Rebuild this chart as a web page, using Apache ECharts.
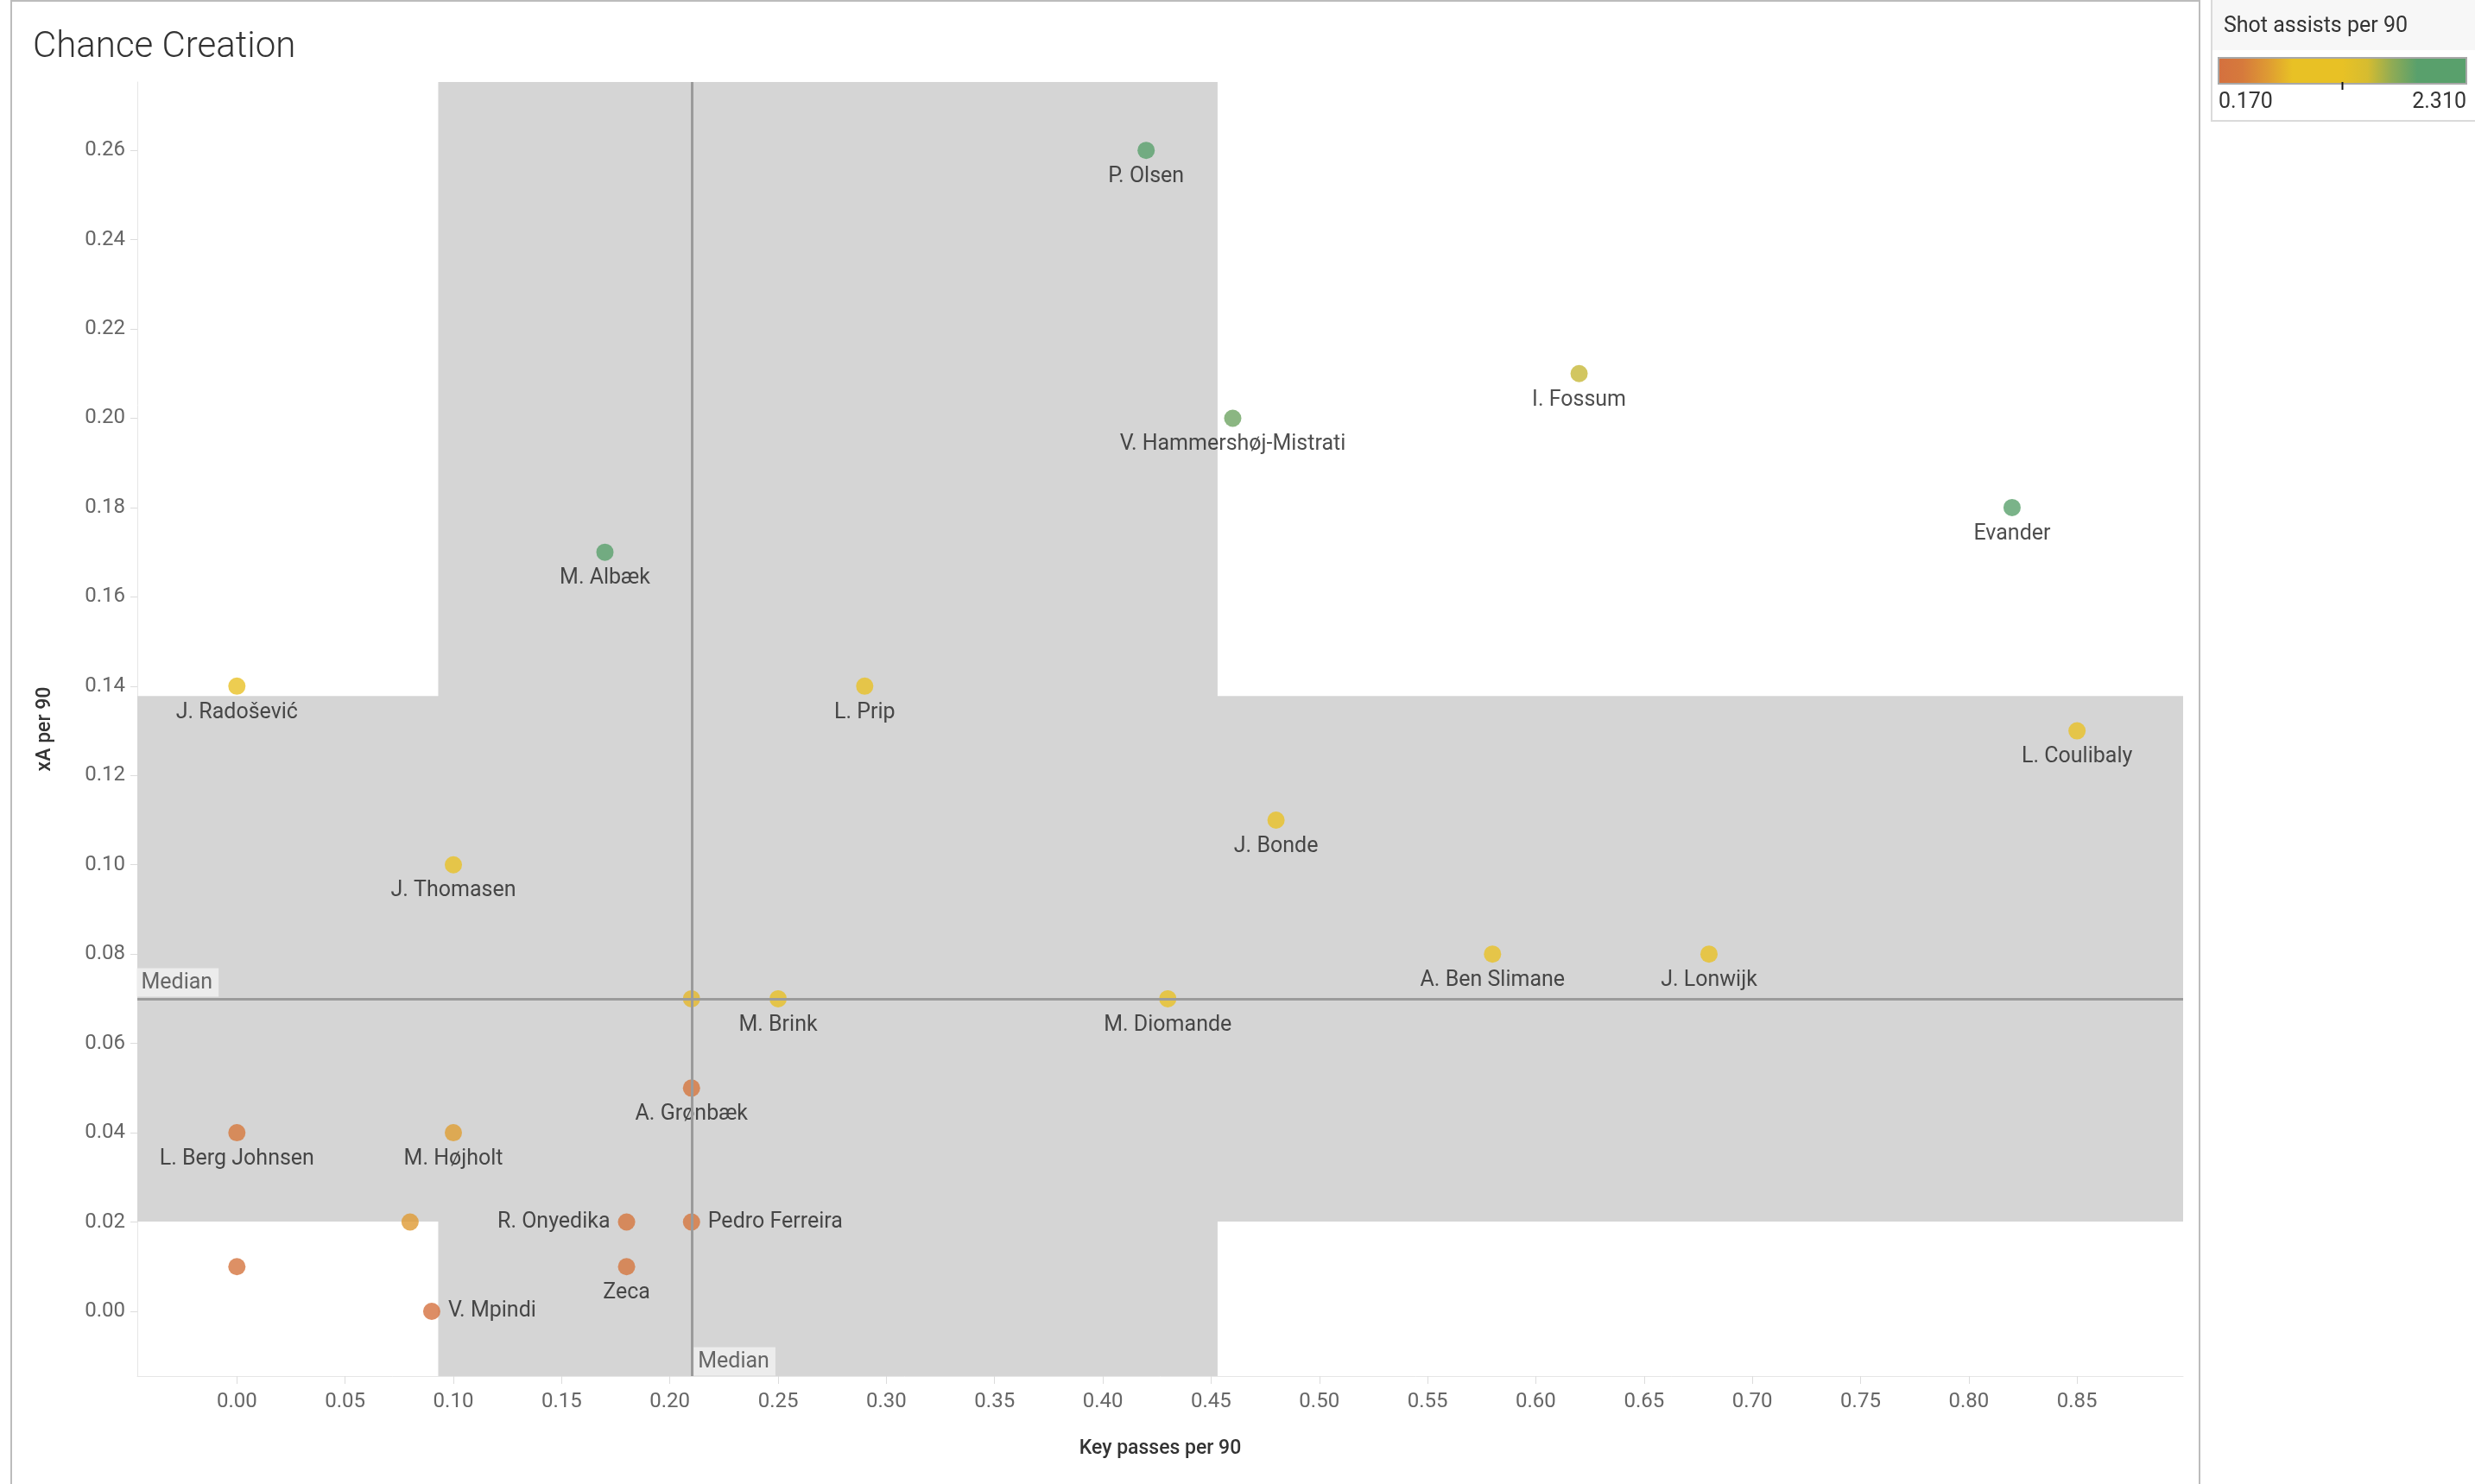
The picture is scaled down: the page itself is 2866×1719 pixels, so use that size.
<!DOCTYPE html>
<html>
<head>
<meta charset="utf-8">
<title>Chance Creation</title>
<script src="https://cdn.jsdelivr.net/npm/echarts@6.0.0/dist/echarts.min.js"></script>
<style>
  html, body { margin: 0; padding: 0; background: #fff; }
  #chart { width: 2866px; height: 1719px; }
</style>
</head>
<body>
<div id="chart"></div>
<script>
// values ('' = point without a label)
const players = [
  'P. Olsen', 'I. Fossum', 'V. Hammershøj-Mistrati', 'Evander', 'M. Albæk',
  'J. Radošević', 'L. Prip', 'L. Coulibaly', 'J. Bonde', 'J. Thomasen',
  'A. Ben Slimane', 'J. Lonwijk', '', 'M. Brink', 'M. Diomande',
  'A. Grønbæk', 'L. Berg Johnsen', 'M. Højholt', '', 'R. Onyedika',
  'Pedro Ferreira', '', 'Zeca', 'V. Mpindi'
];
const keyPasses = [0.42, 0.62, 0.46, 0.82, 0.17, 0.00, 0.29, 0.85, 0.48, 0.10, 0.58, 0.68,
  0.21, 0.25, 0.43, 0.21, 0.00, 0.10, 0.08, 0.18, 0.21, 0.00, 0.18, 0.09];
const xAPer90 = [0.26, 0.21, 0.20, 0.18, 0.17, 0.14, 0.14, 0.13, 0.11, 0.10, 0.08, 0.08,
  0.07, 0.07, 0.07, 0.05, 0.04, 0.04, 0.02, 0.02, 0.02, 0.01, 0.01, 0.00];
const shotAssists = [2.15, 1.50, 1.80, 2.31, 2.05, 1.05, 1.10, 1.05, 1.05, 1.00, 1.10, 1.05,
  0.75, 0.80, 1.00, 0.30, 0.35, 0.62, 0.60, 0.28, 0.30, 0.25, 0.30, 0.20];

const xTicks = [0, 0.05, 0.10, 0.15, 0.20, 0.25, 0.30, 0.35, 0.40, 0.45, 0.50, 0.55, 0.60, 0.65, 0.70, 0.75, 0.80, 0.85];
const yTicks = [0, 0.02, 0.04, 0.06, 0.08, 0.10, 0.12, 0.14, 0.16, 0.18, 0.20, 0.22, 0.24, 0.26];
const xRange = [-0.046, 0.899];
const yRange = [-0.0145, 0.2753];

const medianKeyPasses = 0.21;
const medianXA = 0.07;
const bandKeyPasses = [0.093, 0.453];
const bandXA = [0.0201, 0.1378];

const shotRange = [0.17, 2.31];
const colourStops = ['#d4703f', '#d67a3c', '#de9a33', '#e8c125', '#e8c125', '#e8c125',
  '#d6bc30', '#8fab55', '#59a06c', '#59a06c', '#59a06c'];

// labels that sit beside the dot instead of under it
const labelSide = { 'R. Onyedika': 'left', 'Pedro Ferreira': 'right', 'V. Mpindi': 'right' };

const font = 'Roboto, "Liberation Sans", sans-serif';

const chart = echarts.init(document.getElementById('chart'));

const points = players.map((p, i) => {
  const item = { name: p, value: [keyPasses[i], xAPer90[i], shotAssists[i]] };
  if (labelSide[p]) item.label = { position: labelSide[p], distance: 9 };
  return item;
});

const legendX = 2569, legendW = 287;

chart.setOption({
  animation: false,
  title: {
    text: 'Chance Creation',
    left: 33, top: 29,
    textStyle: { fontFamily: font, fontSize: 42, fontWeight: 300, color: '#333' }
  },
  grid: { left: 159, right: 338, top: 95, bottom: 125 },
  xAxis: {
    type: 'value',
    min: xRange[0], max: xRange[1],
    name: 'Key passes per 90',
    nameLocation: 'middle', nameGap: 73,
    nameTextStyle: { fontFamily: font, fontSize: 23, fontWeight: 500, color: '#333' },
    splitLine: { show: false },
    axisLine: { show: true, onZero: false, lineStyle: { color: '#e6e6e6', width: 1 } },
    axisTick: { show: true, length: 9, customValues: xTicks, lineStyle: { color: '#dcdcdc' } },
    axisLabel: {
      customValues: xTicks, margin: 18,
      formatter: v => v.toFixed(2),
      fontFamily: font, fontSize: 24, color: '#666'
    }
  },
  yAxis: {
    type: 'value',
    min: yRange[0], max: yRange[1],
    name: 'xA per 90',
    nameLocation: 'middle', nameGap: 95, nameRotate: 90,
    nameTextStyle: { fontFamily: font, fontSize: 23, fontWeight: 500, color: '#333' },
    splitLine: { show: false },
    axisLine: { show: true, onZero: false, lineStyle: { color: '#e6e6e6', width: 1 } },
    axisTick: { show: true, length: 8, customValues: yTicks, lineStyle: { color: '#dcdcdc' } },
    axisLabel: {
      customValues: yTicks, margin: 14,
      formatter: v => v.toFixed(2),
      fontFamily: font, fontSize: 24, color: '#666'
    }
  },
  visualMap: {
    show: false,
    type: 'continuous',
    dimension: 2,
    seriesIndex: 0,
    min: shotRange[0], max: shotRange[1],
    inRange: { color: colourStops }
  },
  series: [{
    type: 'scatter',
    symbolSize: 20,
    data: points,
    label: {
      show: true,
      position: 'bottom',
      distance: 8,
      formatter: p => p.name,
      fontFamily: font, fontSize: 25, color: '#222'
    },
    emphasis: { disabled: true },
    markArea: {
      silent: true,
      itemStyle: { color: '#d5d5d5', opacity: 1 },
      data: [
        [{ xAxis: bandKeyPasses[0] }, { xAxis: bandKeyPasses[1] }],
        [{ yAxis: bandXA[0] }, { yAxis: bandXA[1] }]
      ]
    },
    markLine: {
      silent: true,
      symbol: 'none',
      lineStyle: { color: '#9b9b9b', width: 3, type: 'solid' },
      label: { show: false },
      data: [{ xAxis: medianKeyPasses }, { yAxis: medianXA }]
    },
    markPoint: {
      silent: true,
      symbol: 'rect',
      symbolSize: 1,
      itemStyle: { color: 'rgba(0,0,0,0)' },
      label: {
        show: true,
        formatter: 'Median',
        fontFamily: font, fontSize: 25, color: '#666',
        backgroundColor: '#ececec',
        padding: [5, 7, 3, 5],
        align: 'left', verticalAlign: 'bottom'
      },
      data: [
        { coord: [medianKeyPasses, yRange[0]], label: { position: [3, 0] } },
        { coord: [xRange[0], medianXA], label: { position: [0, -2] } }
      ]
    }
  }],
  graphic: [
    {
      type: 'rect', silent: true, z: -10,
      shape: { x: 13, y: 1, width: 2534, height: 1740 },
      style: { fill: 'none', stroke: '#bcbcbc', lineWidth: 2 }
    },
    {
      type: 'rect', silent: true,
      shape: { x: 2561, y: -2, width: 310, height: 142 },
      style: { fill: '#fff', stroke: '#dadada', lineWidth: 2 }
    },
    {
      type: 'rect', silent: true,
      shape: { x: 2562, y: 0, width: 304, height: 58 },
      style: { fill: '#f7f7f7' }
    },
    {
      type: 'text', silent: true,
      x: 2575, y: 31,
      style: { text: 'Shot assists per 90', font: '25px ' + font, fill: '#333', verticalAlign: 'middle' }
    },
    {
      type: 'rect', silent: true,
      shape: { x: legendX, y: 67, width: legendW, height: 30 },
      style: {
        fill: new echarts.graphic.LinearGradient(0, 0, 1, 0,
          colourStops.map((c, i) => ({ offset: i / (colourStops.length - 1), color: c }))),
        stroke: '#a8a8a8', lineWidth: 2
      }
    },
    {
      type: 'line', silent: true,
      shape: { x1: legendX + legendW / 2, y1: 95, x2: legendX + legendW / 2, y2: 104 },
      style: { stroke: '#111', lineWidth: 2 }
    },
    {
      type: 'text', silent: true,
      x: legendX, y: 119,
      style: { text: shotRange[0].toFixed(3), font: '25px ' + font, fill: '#333', verticalAlign: 'middle' }
    },
    {
      type: 'text', silent: true,
      x: legendX + legendW, y: 119,
      style: { text: shotRange[1].toFixed(3), font: '25px ' + font, fill: '#333', align: 'right', verticalAlign: 'middle' }
    }
  ]
});
</script>
</body>
</html>
